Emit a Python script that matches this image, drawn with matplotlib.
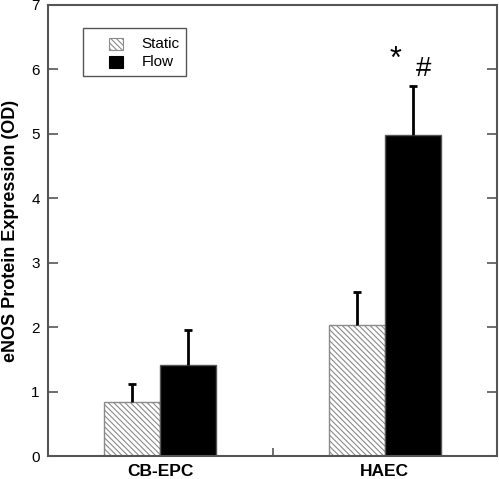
import matplotlib.pyplot as plt
import matplotlib as mpl
from matplotlib.patches import Rectangle
import numpy as np

# data
groups = ['CB-EPC', 'HAEC']
static_mean = [0.84, 2.04]
static_err = [0.28, 0.50]
flow_mean = [1.41, 4.98]
flow_err = [0.55, 0.77]

mpl.rcParams['font.family'] = ['Liberation Sans', 'DejaVu Sans']
mpl.rcParams['hatch.color'] = '#8a8a8a'
mpl.rcParams['hatch.linewidth'] = 0.8

fig = plt.figure(figsize=(4.99, 4.79), dpi=100)
ax = fig.add_axes([48 / 499, 23 / 479, 449 / 499, 451 / 479])

x = np.arange(1, len(groups) + 1)
w = 0.25
static_hatch = '\\\\\\\\\\\\'

ax.bar(x - w / 2, static_mean, w, color='white', edgecolor='#8a8a8a',
       hatch=static_hatch, linewidth=1.0, zorder=2)
ax.bar(x + w / 2, flow_mean, w, color='black', edgecolor='#555555',
       linewidth=1.0, zorder=2)

# upper error bars only
for xs, m, e in [(x - w / 2, static_mean, static_err), (x + w / 2, flow_mean, flow_err)]:
    eb = ax.errorbar(xs, m, yerr=[np.zeros(len(m)), e], fmt='none',
                     ecolor='black', elinewidth=2, capsize=3, capthick=2, zorder=3)
    eb[1][0].set_visible(False)

ax.text(2.05, 6.15, '*', fontsize=22, ha='center', va='center')
ax.text(2.175, 6.0, '#', fontsize=20, ha='center', va='center')

ax.set_xlim(0.5, 2.5)
ax.set_ylim(0, 7)
ax.set_yticks(range(0, 8))
ax.set_xticks(x)
ax.set_xticklabels(groups, fontsize=12.5, fontweight='bold')
ax.set_xticks([1.5], minor=True)
ax.tick_params(axis='x', which='major', length=0, pad=6)
ax.tick_params(axis='x', which='minor', direction='in', length=6, width=1.2, color='#555555')
ax.tick_params(axis='y', direction='in', length=7, width=1.2, color='#555555',
               right=True, labelsize=11, pad=6)
ax.set_ylabel('eNOS Protein Expression (OD)', fontsize=13, fontweight='bold')
ax.yaxis.set_label_coords(-0.064, 0.5)

for s in ax.spines.values():
    s.set_color('#555555')
    s.set_linewidth(1.5)

# legend box
ax.add_patch(Rectangle((0.078, 0.843), 0.229, 0.106, transform=ax.transAxes,
                       facecolor='white', edgecolor='#555555', linewidth=1.0, zorder=4))
ax.add_patch(Rectangle((0.136, 0.900), 0.031, 0.027, transform=ax.transAxes,
                       facecolor='white', edgecolor='#8a8a8a', hatch=static_hatch,
                       linewidth=0.8, zorder=5))
ax.add_patch(Rectangle((0.136, 0.860), 0.031, 0.027, transform=ax.transAxes,
                       facecolor='black', edgecolor='black', linewidth=0.8, zorder=5))
ax.text(0.209, 0.9135, 'Static', transform=ax.transAxes, fontsize=11,
        va='center', ha='left', zorder=6)
ax.text(0.209, 0.8736, 'Flow', transform=ax.transAxes, fontsize=11,
        va='center', ha='left', zorder=6)

fig.savefig('out.png', dpi=100)
